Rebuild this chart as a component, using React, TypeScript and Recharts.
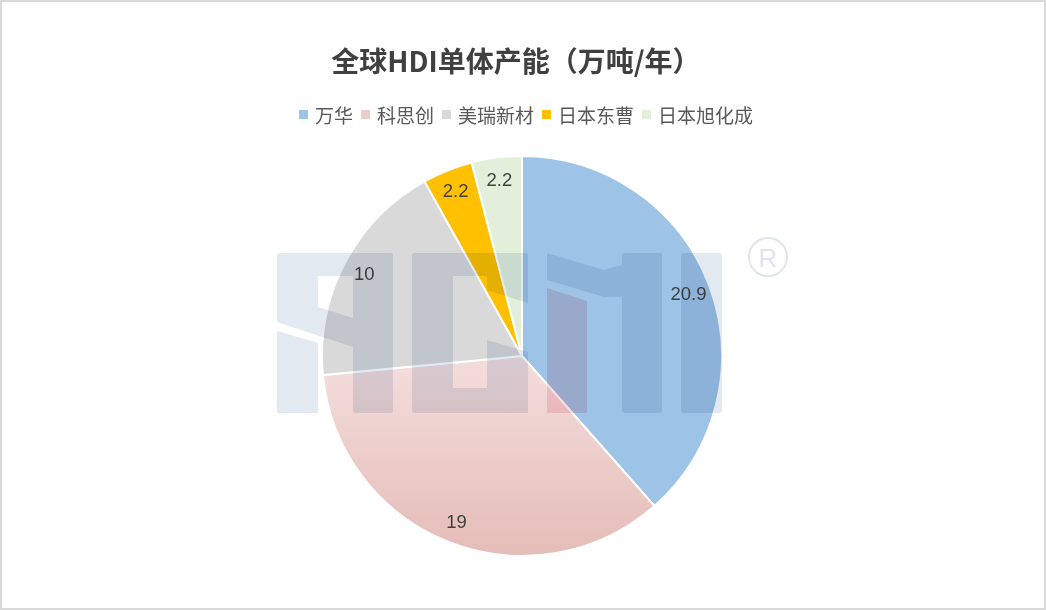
import React from "react";
import { PieChart, Pie, Cell } from "recharts";

const TITLE = "全球HDI单体产能（万吨/年）";
const companies = ["万华", "科思创", "美瑞新材", "日本东曹", "日本旭化成"];
const capacity = [20.9, 19, 10, 2.2, 2.2];
const sliceFills = ["#9DC3E6", "url(#gradPink)", "#D9D9D9", "#FFC000", "#E2EFDA"];
const legendColors = ["#9DC3E6", "#EDCCCA", "#D9D9D9", "#FFC000", "#E2EFDA"];

const data = companies.map((name, i) => ({ name, value: capacity[i] }));

const RAD = Math.PI / 180;

const renderLabel = (props: any) => {
  const { cx, cy, midAngle, outerRadius, value } = props;
  const r = outerRadius * 0.89;
  const x = cx + r * Math.cos(-midAngle * RAD);
  const y = cy + r * Math.sin(-midAngle * RAD);
  return (
    <text
      x={x}
      y={y}
      fill="#404040"
      fontSize={18.5}
      fontFamily="'Liberation Sans', Arial, sans-serif"
      textAnchor="middle"
      dominantBaseline="central"
    >
      {value}
    </text>
  );
};

const LegendRow = () => (
  <div
    style={{
      position: "absolute",
      left: 0,
      top: 101,
      width: 1046,
      height: 26,
      display: "flex",
      justifyContent: "center",
      alignItems: "center",
      fontFamily: "'Noto Sans CJK SC', sans-serif",
      fontSize: 19,
      color: "#595959",
      whiteSpace: "nowrap",
      paddingLeft: 6,
      boxSizing: "border-box",
    }}
  >
    {companies.map((c, i) => (
      <div key={c} style={{ display: "flex", alignItems: "center", marginRight: i < companies.length - 1 ? 8 : 0 }}>
        <span style={{ display: "inline-block", width: 9, height: 9, background: legendColors[i], marginRight: 7 }} />
        <span>{c}</span>
      </div>
    ))}
  </div>
);

const Watermark = () => (
  <svg
    width={1046}
    height={610}
    style={{ position: "absolute", left: 0, top: 0, pointerEvents: "none", mixBlendMode: "multiply" }}
  >
    <g fill="#E3E9F1">
      {/* A */}
      <rect x={353} y={253} width={40} height={160} rx={3} />
      <rect x={277} y={253} width={116} height={23} rx={3} />
      <polygon points="277,270 318,270 318,307 353,318 353,347 277,322" />
      <polygon points="277,331 318,343 318,413 277,413" />
      {/* C */}
      <rect x={412} y={253} width={116} height={23} rx={3} />
      <rect x={412} y={253} width={41} height={160} rx={3} />
      <rect x={412} y={388} width={116} height={25} rx={3} />
      <polygon points="487,270 528,270 528,303 487,290" />
      <polygon points="487,340 528,352 528,413 487,413" />
      {/* M */}
      <polygon points="547,253 604,270 662,253 662,296 604,297 547,280" />
      <rect x={622} y={253} width={40} height={160} rx={3} />
      {/* I */}
      <rect x={681} y={253} width={41} height={160} rx={3} />
    </g>
    <polygon points="547,288 587,301 587,413 547,413" fill="#F8DDE3" />
    <circle cx={768} cy={257} r={19} fill="none" stroke="#DFE5EE" strokeWidth={2} />
    <text
      x={768}
      y={258}
      fill="#DFE5EE"
      fontSize={26}
      fontFamily="'Liberation Sans', Arial, sans-serif"
      textAnchor="middle"
      dominantBaseline="central"
    >
      R
    </text>
  </svg>
);

export default function App() {
  return (
    <div style={{ position: "absolute", left: 0, top: 0, width: 1046, height: 610, background: "#fff", overflow: "hidden" }}>
      <div
        style={{
          position: "absolute",
          left: 0,
          top: 40,
          width: 1046,
          textAlign: "center",
          fontFamily: "'Noto Sans CJK SC', sans-serif",
          fontWeight: 700,
          fontSize: 28,
          color: "#404040",
          lineHeight: "40px",
          paddingRight: 14,
          boxSizing: "border-box",
        }}
      >
        {TITLE}
      </div>
      <LegendRow />
      <div style={{ position: "absolute", left: 0, top: 0 }}>
        <PieChart width={1046} height={610} margin={{ top: 0, right: 0, bottom: 0, left: 0 }}>
          <defs>
            <linearGradient id="gradPink" x1="0" y1="0" x2="0" y2="1">
              <stop offset="0%" stopColor="#F3DEDD" />
              <stop offset="100%" stopColor="#E5BCB7" />
            </linearGradient>
          </defs>
          <Pie
            data={data}
            dataKey="value"
            nameKey="name"
            cx={522}
            cy={356}
            outerRadius={200}
            startAngle={90}
            endAngle={-270}
            stroke="#FFFFFF"
            strokeWidth={2}
            label={renderLabel}
            labelLine={false}
            isAnimationActive={false}
          >
            {data.map((d, i) => (
              <Cell key={d.name} fill={sliceFills[i]} />
            ))}
          </Pie>
        </PieChart>
      </div>
      <Watermark />
      <div
        style={{
          position: "absolute",
          left: 0,
          top: 0,
          width: 1046,
          height: 610,
          border: "2px solid #D9D9D9",
          boxSizing: "border-box",
          pointerEvents: "none",
        }}
      />
    </div>
  );
}
